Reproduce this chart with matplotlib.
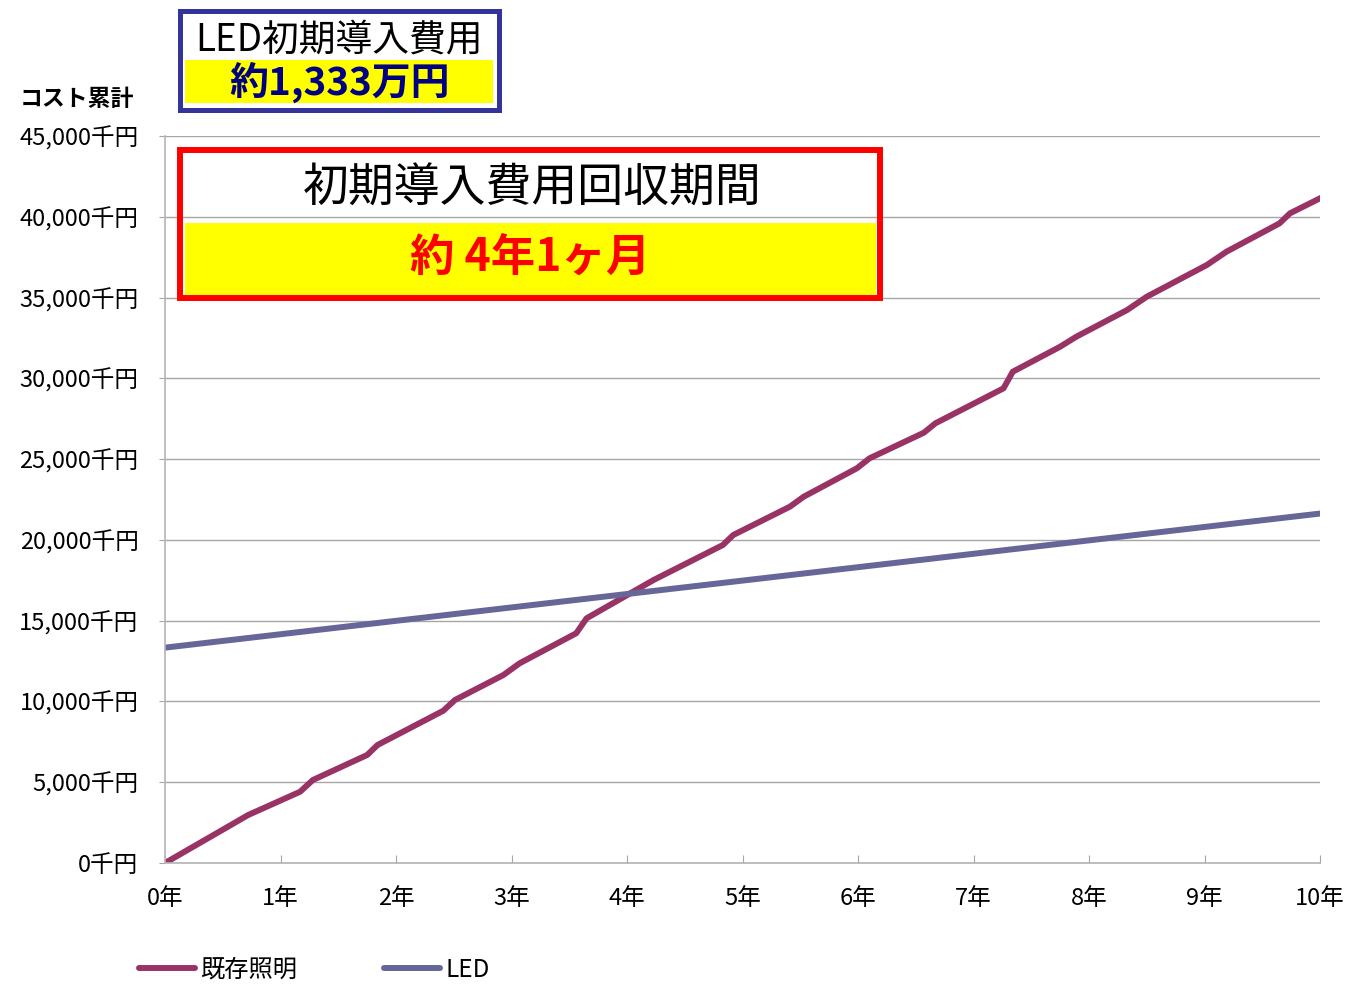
import numpy as np
import matplotlib
matplotlib.use("Agg")
import matplotlib.pyplot as plt
from matplotlib.patches import Rectangle

plt.rcParams['font.family'] = ['Noto Sans CJK JP', 'DejaVu Sans']

# 既存照明 cumulative cost (years, 千円)
exist_years = [0, 0.62, 0.72, 1.17, 1.28, 1.75, 1.84, 2.41, 2.51, 2.93, 3.07, 3.56, 3.65,
               4.23, 4.83, 4.92, 5.41, 5.53, 5.99, 6.10, 6.57, 6.67, 7.26, 7.34, 7.75,
               7.89, 8.33, 8.50, 9.02, 9.19, 9.65, 9.74, 10]
exist_cost = [0, 2556, 2971, 4413, 5137, 6685, 7304, 9427, 10089, 11637, 12360, 14218, 15146,
              17517, 19683, 20302, 22054, 22673, 24431, 25049, 26634, 27216, 29382, 30409, 31957,
              32576, 34229, 35052, 37014, 37838, 39595, 40214, 41143]

# LED cumulative cost
led_years = [0, 1, 2, 3, 4, 5, 6, 7, 8, 9, 10]
led_cost = [13330, 14160, 14990, 15820, 16650, 17480, 18310, 19140, 19970, 20800, 21630]

y_ticks = list(range(0, 45001, 5000))
x_ticks = list(range(0, 11))

W, H = 1349, 992
fig = plt.figure(figsize=(W/100, H/100), dpi=100)

def fx(px):
	return px / W

def fy(py):
	return 1 - py / H

ax = fig.add_axes([fx(165), fy(863), fx(1320) - fx(165), fy(136) - fy(863)])

ax.plot(exist_years, exist_cost, color='#993366', lw=4.3, label='既存照明', solid_joinstyle='round')
ax.plot(led_years, led_cost, color='#666699', lw=4.3, label='LED', solid_joinstyle='round')

ax.set_xlim(0, 10)
ax.set_ylim(0, 45000)
ax.set_yticks(y_ticks)
ax.set_yticklabels([f"{v:,}千円" for v in y_ticks])
ax.set_xticks(x_ticks)
ax.set_xticklabels([f"{v}年" for v in x_ticks])
ax.grid(axis='y', color='#A6A6A6', lw=1)
ax.set_axisbelow(True)
for s in ['top', 'right']:
	ax.spines[s].set_visible(False)
for s in ['left', 'bottom']:
	ax.spines[s].set_color('#B4B4B4')
	ax.spines[s].set_linewidth(1.2)
ax.tick_params(axis='y', direction='out', length=4, color='#A6A6A6', labelsize=17, pad=15)
ax.tick_params(axis='x', direction='in', length=6, color='#A6A6A6', labelsize=17, pad=17)

fig.text(fx(20), fy(99), 'コスト累計', fontsize=16.5, fontweight='bold', ha='left', va='center')

# LED initial cost box
fig.patches.append(Rectangle((fx(185), fy(103)), fx(493) - fx(185), fy(60) - fy(103),
	transform=fig.transFigure, facecolor='#FFFF00', edgecolor='none'))
fig.patches.append(Rectangle((fx(179.5), fy(109.5)), fx(498.5) - fx(179.5), fy(10.5) - fy(109.5),
	transform=fig.transFigure, facecolor='none', edgecolor='#333399', lw=3.6))
fig.text(fx(339), fy(40), 'LED初期導入費用', fontsize=26.5, ha='center', va='center')
fig.text(fx(340), fy(82), '約1,333万円', fontsize=28, fontweight='bold', color='#000080', ha='center', va='center')

# payback period box
fig.patches.append(Rectangle((fx(185), fy(295)), fx(876) - fx(185), fy(223) - fy(295),
	transform=fig.transFigure, facecolor='#FFFF00', edgecolor='none'))
fig.patches.append(Rectangle((fx(180), fy(298)), fx(880) - fx(180), fy(150) - fy(298),
	transform=fig.transFigure, facecolor='none', edgecolor='#FF0000', lw=4.3))
fig.text(fx(532), fy(188), '初期導入費用回収期間', fontsize=33, ha='center', va='center')
fig.text(fx(530), fy(258), '約 4年1ヶ月', fontsize=32, fontweight='bold', color='#FF0000', ha='center', va='center')

leg = fig.legend(loc='center left', bbox_to_anchor=(fx(139), fy(970)), ncol=2, frameon=False,
	fontsize=17.5, handlelength=2.3, handletextpad=0.2, columnspacing=3.6, borderpad=0, borderaxespad=0)
for h in leg.get_lines():
	h.set_solid_capstyle('round')

fig.savefig('out.png', dpi=100)
